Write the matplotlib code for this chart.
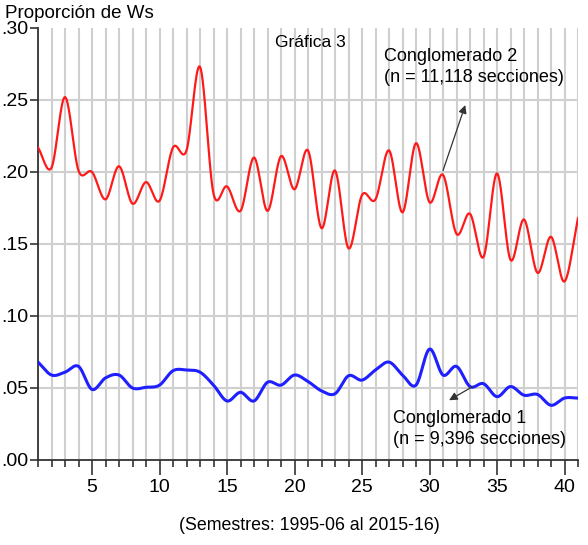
import numpy as np
import matplotlib
matplotlib.use('Agg')
from matplotlib import pyplot as plt
from matplotlib.ticker import FuncFormatter, MultipleLocator

plt.rcParams['font.family'] = ['Liberation Sans', 'DejaVu Sans']

# semestres 1995-06 .. 2015-16
semestres = np.arange(1, 42)

# proporcion de Ws
conglomerado_2 = [
    0.217, 0.203, 0.252, 0.201, 0.200, 0.181, 0.204, 0.178, 0.193, 0.180,
    0.217, 0.215, 0.273, 0.185, 0.190, 0.173, 0.210, 0.173, 0.211, 0.188,
    0.215, 0.161, 0.201, 0.147, 0.184, 0.181, 0.215, 0.172, 0.220, 0.179,
    0.198, 0.157, 0.171, 0.141, 0.199, 0.139, 0.167, 0.130, 0.155, 0.124,
    0.168,
]
conglomerado_1 = [
    0.068, 0.059, 0.061, 0.065, 0.049, 0.057, 0.059, 0.050, 0.0505, 0.052,
    0.062, 0.0625, 0.061, 0.052, 0.041, 0.047, 0.041, 0.054, 0.052, 0.059,
    0.0545, 0.048, 0.046, 0.0585, 0.0555, 0.0625, 0.068, 0.059, 0.052, 0.077,
    0.059, 0.065, 0.051, 0.053, 0.044, 0.051, 0.045, 0.0455, 0.038, 0.043,
    0.043,
]

y_ticks = [0.00, 0.05, 0.10, 0.15, 0.20, 0.25, 0.30]
x_ticks = [5, 10, 15, 20, 25, 30, 35, 40]


def smooth(x, y, per_seg=40):
    # Catmull-Rom (hermite con pendientes centradas)
    x = np.asarray(x, dtype=float)
    y = np.asarray(y, dtype=float)
    m = np.gradient(y, x)
    xs_all, ys_all = [], []
    for i in range(len(x) - 1):
        h = x[i + 1] - x[i]
        t = np.linspace(0, 1, per_seg, endpoint=False)
        h00 = 2 * t**3 - 3 * t**2 + 1
        h10 = t**3 - 2 * t**2 + t
        h01 = -2 * t**3 + 3 * t**2
        h11 = t**3 - t**2
        xs_all.append(x[i] + t * h)
        ys_all.append(h00 * y[i] + h10 * h * m[i] + h01 * y[i + 1] + h11 * h * m[i + 1])
    xs_all.append([x[-1]])
    ys_all.append([y[-1]])
    return np.concatenate(xs_all), np.concatenate(ys_all)


fig = plt.figure(figsize=(5.88, 5.45), dpi=100)
ax = fig.add_axes([38 / 588, 1 - 460 / 545, 540 / 588, 432 / 545])

grid_c = '#cfcfcf'
for xv in semestres:
    ax.axvline(xv, color=grid_c, linewidth=1.5, zorder=0)
for yv in y_ticks[1:-1]:
    ax.axhline(yv, color=grid_c, linewidth=1.5, zorder=0)

xs, ys = smooth(semestres, conglomerado_2)
ax.plot(xs, ys, color='#ff1a1a', linewidth=1.6, zorder=3)
xs, ys = smooth(semestres, conglomerado_1)
ax.plot(xs, ys, color='#1f1fff', linewidth=2.2, zorder=3)

ax.set_xlim(1, 41)
ax.set_ylim(0, 0.30)
ax.set_yticks(y_ticks)
ax.yaxis.set_major_formatter(FuncFormatter(lambda v, p: f'{v:.2f}'[1:]))
ax.set_xticks(x_ticks)
ax.xaxis.set_minor_locator(MultipleLocator(1))
ax.tick_params(axis='both', which='major', labelsize=14, color='#333333', width=1.2)
ax.tick_params(axis='x', which='major', length=11, pad=3)
ax.tick_params(axis='x', which='minor', length=5, width=1.2, color='#333333')
ax.tick_params(axis='y', which='major', length=6, pad=1)

for s in ['top', 'right']:
    ax.spines[s].set_visible(False)
for s in ['left', 'bottom']:
    ax.spines[s].set_color('#333333')
    ax.spines[s].set_linewidth(1.3)

ax.text(21.2, 0.290, 'Gráfica 3', fontsize=12.5, ha='center', va='center')

ax.text(26.6, 0.273, 'Conglomerado 2\n(n = 11,118 secciones)', fontsize=13,
        ha='left', va='center', linespacing=1.3, zorder=5)
ax.annotate('', xy=(32.65, 0.2465), xytext=(31.0, 0.201),
            arrowprops=dict(arrowstyle='-|>', color='#333333', lw=0.9,
                            mutation_scale=12, shrinkA=0, shrinkB=0))

ax.text(27.3, 0.0215, 'Conglomerado 1\n(n = 9,396 secciones)', fontsize=13,
        ha='left', va='center', linespacing=1.3, zorder=5)
ax.annotate('', xy=(31.45, 0.0415), xytext=(33.2, 0.051),
            arrowprops=dict(arrowstyle='-|>', color='#333333', lw=0.9,
                            mutation_scale=12, shrinkA=0, shrinkB=0))

fig.text(5 / 588, 1 - 13 / 545, 'Proporción de Ws', fontsize=13.5, ha='left', va='center')
fig.text(309 / 588, 1 - 526 / 545, '(Semestres: 1995-06 al 2015-16)', fontsize=12.8,
         ha='center', va='center')

fig.savefig('out.png', dpi=100)
